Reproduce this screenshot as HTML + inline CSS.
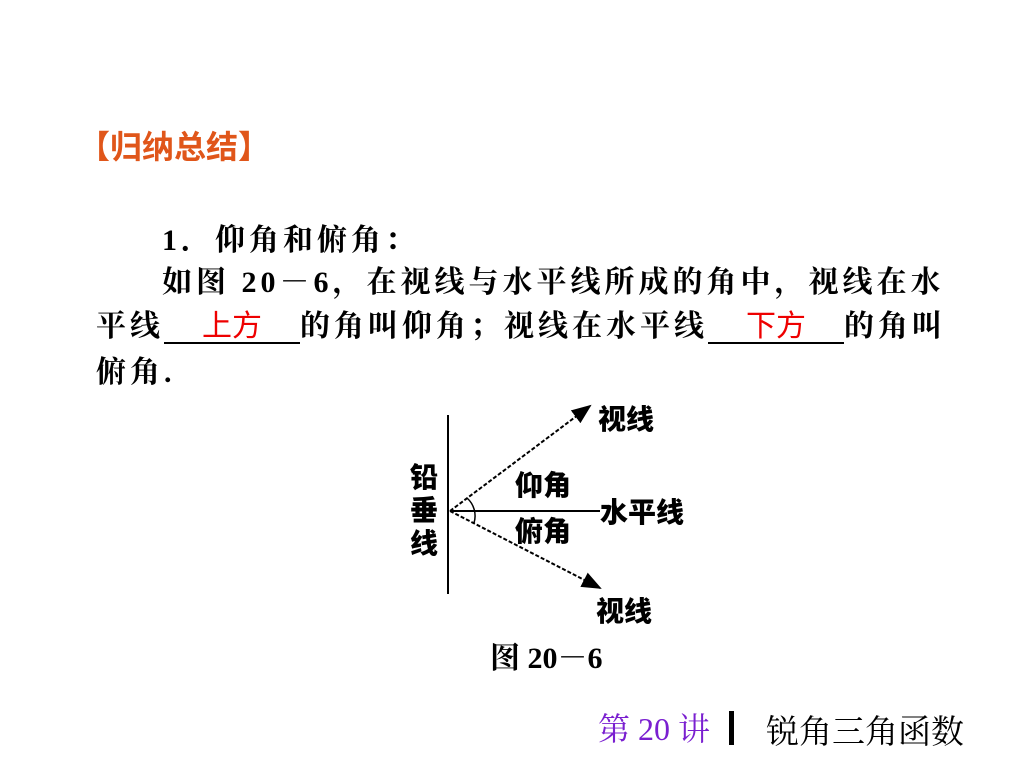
<!DOCTYPE html>
<html><head><meta charset="utf-8"><style>
body{margin:0;width:1024px;height:768px;background:#fff;position:relative;overflow:hidden;font-family:"Liberation Serif","Noto Serif CJK SC",serif;}
.t{position:absolute;white-space:nowrap;font-weight:bold;font-size:30px;color:#000;line-height:1;letter-spacing:4px;}
.u{display:inline-block;border-bottom:2px solid #000;text-align:center;color:#e00;font-weight:normal;font-family:"Liberation Sans","Noto Sans CJK SC",sans-serif;letter-spacing:0;}
.d{position:absolute;font-family:"Noto Sans CJK SC",sans-serif;font-weight:900;font-size:28px;line-height:1;}
</style></head><body>
<div class="t" style="left:78px;top:131px;font-size:32px;letter-spacing:0;color:#e0561a;font-family:'Liberation Sans','Noto Sans CJK SC',sans-serif;">【归纳总结】</div>
<div class="t" style="left:162px;top:226px;">1．仰角和俯角：</div>
<div class="t" style="left:162px;top:268px;">如图 20－6，在视线与水平线所成的角中，视线在水</div>
<div class="t" style="left:96px;top:312px;">平线<span class="u" style="width:136px">上方</span>的角叫仰角；视线在水平线<span class="u" style="width:136px">下方</span>的角叫</div>
<div class="t" style="left:96px;top:358px;">俯角.</div>
<svg style="position:absolute;left:0;top:0" width="1024" height="768">
<defs><marker id="a" markerWidth="10" markerHeight="8" refX="9" refY="4" orient="auto"><path d="M0,0L10,4L0,8z" fill="#000"/></marker></defs>
<line x1="448" y1="415" x2="448" y2="594" stroke="#000" stroke-width="2"/>
<line x1="450" y1="511" x2="600" y2="511" stroke="#000" stroke-width="2"/>
<line x1="450" y1="511" x2="590" y2="406" stroke="#000" stroke-width="2" stroke-dasharray="4,2" marker-end="url(#a)"/>
<line x1="450" y1="511" x2="600" y2="588" stroke="#000" stroke-width="2" stroke-dasharray="4,2" marker-end="url(#a)"/>
<path d="M467,498 A24,24 0 0 1 474,523" fill="none" stroke="#000" stroke-width="1.5"/>
</svg>
<div class="d" style="left:410px;top:460px;width:30px;line-height:33px;">铅<br>垂<br>线</div>
<div class="d" style="left:598px;top:404px;">视线</div>
<div class="d" style="left:515px;top:470px;">仰角</div>
<div class="d" style="left:600px;top:497px;">水平线</div>
<div class="d" style="left:515px;top:516px;">俯角</div>
<div class="d" style="left:596px;top:596px;">视线</div>
<div class="t" style="left:490px;top:644px;letter-spacing:0;">图 20－6</div>
<div class="t" style="left:598px;top:713px;font-size:32px;letter-spacing:0;font-weight:normal;color:#7a1fd0;font-family:'Liberation Serif','Noto Serif CJK SC',serif;">第 20 讲</div>
<div style="position:absolute;left:729px;top:711px;width:5px;height:34px;background:#000"></div>
<div class="t" style="left:766px;top:713px;font-size:33px;letter-spacing:0;font-weight:normal;font-family:'Noto Serif CJK SC',serif;">锐角三角函数</div>
</body></html>
